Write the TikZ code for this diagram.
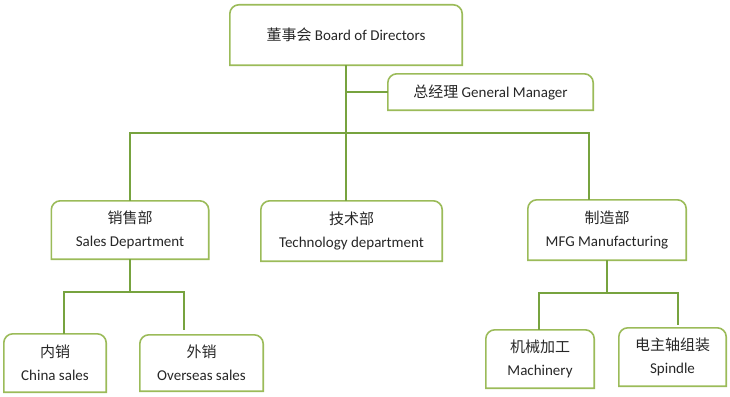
\documentclass[tikz,border=0pt]{standalone}
\usepackage{fontspec}
\setmainfont{Carlito}
\newfontfamily\cjk{Noto Sans CJK SC}
\usepackage{tikz}
\usetikzlibrary{positioning,calc}
\definecolor{boxgreen}{HTML}{9BBB59}
\definecolor{linegreen}{HTML}{77A33F}

\begin{document}
\begin{tikzpicture}[
          x=1pt,y=-1pt,
          every node/.style={font=\fontsize{15}{23}\selectfont,text=black!85},
          orgbox/.style={minimum width=#1,inner sep=0pt,align=center},
          boxline/.style={draw=boxgreen,line width=1.6pt},
          conn/.style={draw=linegreen,line width=2.6pt},
      ]
        \useasboundingbox (0,0) rectangle (730,396);

        % boxes
        \node[orgbox=232pt,minimum height=60pt] (board) at (346,35)
          {{\cjk 董事会} Board of Directors};
        \node[orgbox=205pt,minimum height=36pt] (gm) at (490.5,92)
          {{\cjk 总经理} General Manager};
        \node[orgbox=157pt,minimum height=58pt] (sales) at (130,230)
          {{\cjk 销售部}\\Sales Department};
        \node[orgbox=181pt,minimum height=60pt] (tech) at (351.5,231)
          {{\cjk 技术部}\\Technology department};
        \node[orgbox=158pt,minimum height=60pt] (mfg) at (607,230)
          {{\cjk 制造部}\\MFG Manufacturing};
        \node[orgbox=102pt,minimum height=58pt] (china) at (55,363)
          {{\cjk 内销}\\China sales};
        \node[orgbox=123pt,minimum height=56pt] (oversea) at (201.5,363)
          {{\cjk 外销}\\Overseas sales};
        \node[orgbox=108pt,minimum height=58pt] (mach) at (540,359)
          {{\cjk 机械加工}\\Machinery};
        \node[orgbox=107pt,minimum height=58pt] (spin) at (672.5,357)
          {{\cjk 电主轴组装}\\Spindle};

        % outlines, rounded on top only
        \foreach \n in {board,gm,sales,tech,mfg,china,oversea,mach,spin}
          \draw[boxline] (\n.south west) [rounded corners=9pt] -- (\n.north west)
            -- (\n.north east) [sharp corners] -- (\n.south east) -- cycle;

        % connectors
        \coordinate (barR) at (589,133);
        \coordinate (salesL) at (64,292);
        \coordinate (salesR) at (184,292);
        \coordinate (mfgL) at (539,293);
        \coordinate (mfgR) at (678,293);

        \draw[conn] (board.south) -- (board.south |- tech.north);
        \draw[conn] (gm.west) -- (gm.west -| board.south);
        \draw[conn] (sales.north) |- (barR) -- (barR |- mfg.north);

        \draw[conn] (sales.south) -- (sales.south |- salesL);
        \draw[conn,shorten >=5pt] (salesL |- china.north) -- (salesL) -- (salesR) -- (salesR |- oversea.north);
        \draw[conn] (mfg.south) -- (mfg.south |- mfgL);
        \draw[conn,shorten >=3pt] (mfgL |- mach.north) -- (mfgL) -- (mfgR) -- (mfgR |- spin.north);
      \end{tikzpicture}
\end{document}
